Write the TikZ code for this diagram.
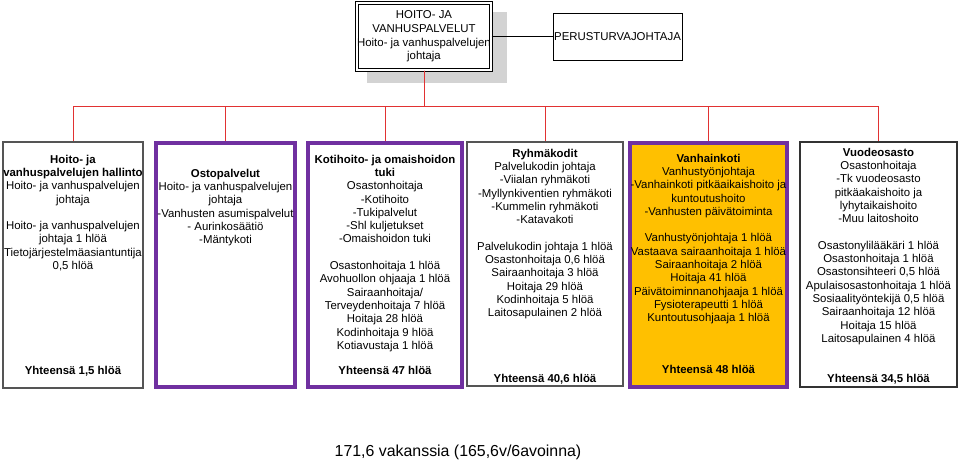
\documentclass[tikz,border=0pt]{standalone}
\usepackage{fontspec}
\setmainfont{Liberation Sans}
\definecolor{orgred}{RGB}{225,50,50}
\definecolor{unitpurple}{RGB}{112,48,160}
\definecolor{unitgold}{RGB}{255,192,0}
\definecolor{shadowgray}{RGB}{211,211,211}
\definecolor{framegray}{RGB}{85,85,85}

\tikzset{
  unitbox/.style={draw=framegray, line width=1.3pt, fill=white, inner sep=0pt},
  purplebox/.style={draw=unitpurple, line width=4pt, fill=white, inner sep=0pt},
  unittext/.style={anchor=north, align=center, inner sep=0pt, font=\fontsize{11.4}{13.3}\selectfont},
  sumtext/.style={unittext, font=\fontsize{11.4}{13.3}\selectfont\bfseries},
  orgline/.style={draw=orgred, line width=1pt},
}

\begin{document}
\begin{tikzpicture}[x=1pt, y=-1pt]
  \useasboundingbox (0,0) rectangle (960,460);

  % ---------------- head of the chart ----------------
  \fill[shadowgray] (367,12) rectangle (507,83);
  \node[draw, line width=1.1pt, double, double distance=1.4pt, fill=white,
        minimum width=134pt, minimum height=67pt, inner sep=0pt, align=center,
        font=\fontsize{11.4}{13.7}\selectfont] (johto) at (424,36.5)
    {HOITO- JA\\VANHUSPALVELUT\\Hoito- ja vanhuspalvelujen\\johtaja};
  \node[draw, line width=0.9pt, minimum width=129pt, minimum height=47pt,
        inner sep=0pt, font=\fontsize{11.4}{13.3}\selectfont] (perus) at (617.5,36.5)
    {PERUSTURVAJOHTAJA};
  \draw[line width=0.9pt] (johto.east) -- (perus.west);

  % ---------------- the six units ----------------
  \node[unitbox, minimum width=140pt, minimum height=246pt] (hallinto) at (73,265) {};
  \node[purplebox, minimum width=139pt, minimum height=244pt] (osto) at (225.5,265) {};
  \node[purplebox, minimum width=154pt, minimum height=244pt] (kotihoito) at (385,265) {};
  \node[unitbox, minimum width=156pt, minimum height=244pt] (ryhma) at (545,264) {};
  \node[purplebox, fill=unitgold, minimum width=157pt, minimum height=244pt] (vanhainkoti) at (708.5,265) {};
  \node[unitbox, draw=black!80, minimum width=157pt, minimum height=245pt] (vuode) at (878.5,264.5) {};

  % red tree from the head to every unit
  \foreach \unit in {hallinto,osto,kotihoito,ryhma,vanhainkoti,vuode}
    \draw[orgline] (johto.south) -- ++(0,35.5) -| (\unit.north);

  % ---------------- unit texts ----------------
  \node[unittext] (hallinto-t) at (73,154.7)
    {\textbf{Hoito- ja}\\\textbf{vanhuspalvelujen hallinto}\\Hoito- ja vanhuspalvelujen\\johtaja\\[13.3pt]%
     Hoito- ja vanhuspalvelujen\\johtaja 1 hlöä\\Tietojärjestelmäasiantuntija\\0,5 hlöä};
  \node[sumtext] (hallinto-s) at (73,365.7) {Yhteensä 1,5 hlöä};

  \node[unittext] (osto-t) at (225.5,168.7)
    {\textbf{Ostopalvelut}\\Hoito- ja vanhuspalvelujen\\johtaja\\-Vanhusten asumispalvelut\\- Aurinkosäätiö\\-Mäntykoti};

  \node[unittext] (kotihoito-t) at (385,154.7)
    {\textbf{Kotihoito- ja omaishoidon}\\\textbf{tuki}\\Osastonhoitaja\\-Kotihoito\\-Tukipalvelut\\-Shl kuljetukset\\-Omaishoidon tuki\\[13.3pt]%
     Osastonhoitaja 1 hlöä\\Avohuollon ohjaaja 1 hlöä\\Sairaanhoitaja/\\Terveydenhoitaja 7 hlöä\\Hoitaja 28 hlöä\\Kodinhoitaja 9 hlöä\\Kotiavustaja 1 hlöä};
  \node[sumtext] (kotihoito-s) at (385,365.7) {Yhteensä 47 hlöä};

  \node[unittext] (ryhma-t) at (545,148.7)
    {\textbf{Ryhmäkodit}\\Palvelukodin johtaja\\-Viialan ryhmäkoti\\-Myllynkiventien ryhmäkoti\\-Kummelin ryhmäkoti\\-Katavakoti\\[13.3pt]%
     Palvelukodin johtaja 1 hlöä\\Osastonhoitaja 0,6 hlöä\\Sairaanhoitaja 3 hlöä\\Hoitaja 29 hlöä\\Kodinhoitaja 5 hlöä\\Laitosapulainen 2 hlöä};
  \node[sumtext] (ryhma-s) at (545,373.7) {Yhteensä 40,6 hlöä};

  \node[unittext] (vanhainkoti-t) at (708.5,153.7)
    {\textbf{Vanhainkoti}\\Vanhustyönjohtaja\\-Vanhainkoti pitkäaikaishoito ja\\kuntoutushoito\\-Vanhusten päivätoiminta\\[13.3pt]%
     Vanhustyönjohtaja 1 hlöä\\Vastaava sairaanhoitaja 1 hlöä\\Sairaanhoitaja 2 hlöä\\Hoitaja 41 hlöä\\Päivätoiminnanohjaaja 1 hlöä\\Fysioterapeutti 1 hlöä\\Kuntoutusohjaaja 1 hlöä};
  \node[sumtext] (vanhainkoti-s) at (708.5,364.7) {Yhteensä 48 hlöä};

  \node[unittext] (vuode-t) at (878.5,147.7)
    {\textbf{Vuodeosasto}\\Osastonhoitaja\\-Tk vuodeosasto\\pitkäakaishoito ja\\lyhytaikaishoito\\-Muu laitoshoito\\[13.3pt]%
     Osastonylilääkäri 1 hlöä\\Osastonhoitaja 1 hlöä\\Osastonsihteeri 0,5 hlöä\\Apulaisosastonhoitaja 1 hlöä\\Sosiaalityöntekijä 0,5 hlöä\\Sairaanhoitaja 12 hlöä\\Hoitaja 15 hlöä\\Laitosapulainen 4 hlöä};
  \node[sumtext] (vuode-s) at (878.5,373.7) {Yhteensä 34,5 hlöä};

  % ---------------- grand total ----------------
  \node[inner sep=0pt, font=\fontsize{15.9}{19}\selectfont] (vakanssit) at (458,452)
    {171,6 vakanssia (165,6v/6avoinna)};

\end{tikzpicture}
\end{document}
